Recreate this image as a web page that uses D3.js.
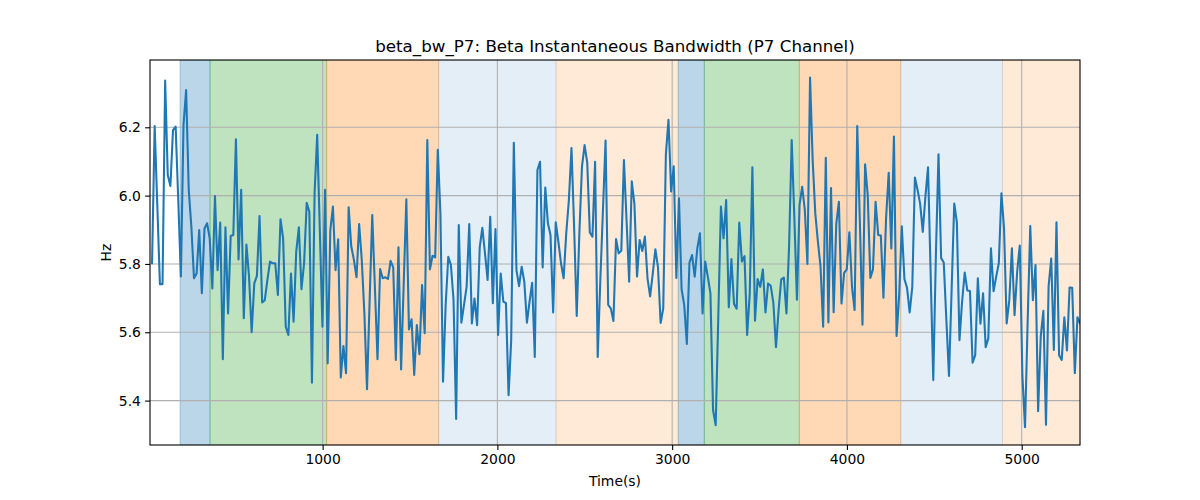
<!DOCTYPE html>
<html>
<head>
<meta charset="utf-8">
<script src="https://cdn.jsdelivr.net/npm/d3@7"></script>
<style>
  body { margin: 0; background: #fff; }
  text { font-family: "DejaVu Sans", sans-serif; }
</style>
</head>
<body>
<svg id="chart" width="1200" height="500"></svg>
<script>
// ---- data ----
const title = "beta_bw_P7: Beta Instantaneous Bandwidth (P7 Channel)";
const xLabel = "Time(s)";
const yLabel = "Hz";
const startTime = 24;      // seconds, first sample
const sampleStep = 15;     // seconds between samples
const values = [
  5.802, 6.204, 5.973, 5.741, 5.741, 6.337, 6.060, 6.028, 6.192, 6.202,
  5.987, 5.763, 6.207, 6.309, 6.017, 5.909, 5.758, 5.772, 5.899, 5.714,
  5.904, 5.919, 5.875, 5.728, 5.999, 5.782, 5.921, 5.521, 5.907, 5.655,
  5.882, 5.885, 6.165, 5.813, 6.017, 5.641, 5.857, 5.763, 5.600, 5.743,
  5.765, 5.940, 5.687, 5.694, 5.753, 5.807, 5.802, 5.802, 5.709, 5.931,
  5.875, 5.616, 5.592, 5.772, 5.631, 5.836, 5.907, 5.726, 5.802, 5.979,
  5.953, 5.452, 6.007, 6.178, 5.899, 5.616, 6.017, 5.509, 5.899, 5.968,
  5.782, 5.872, 5.468, 5.560, 5.480, 5.966, 5.851, 5.812, 5.761, 5.917,
  5.812, 5.655, 5.433, 5.694, 5.943, 5.733, 5.521, 5.785, 5.758, 5.761,
  5.756, 5.809, 5.790, 5.519, 5.849, 5.491, 5.743, 5.989, 5.608, 5.638,
  5.475, 5.621, 5.536, 5.738, 5.597, 6.163, 5.784, 5.824, 5.819, 6.134,
  5.948, 5.455, 5.680, 5.821, 5.797, 5.696, 5.346, 5.914, 5.628, 5.680,
  5.733, 5.917, 5.626, 5.699, 5.621, 5.849, 5.906, 5.831, 5.753, 5.938,
  5.685, 5.902, 5.592, 5.772, 5.690, 5.685, 5.416, 5.577, 6.155, 5.782,
  5.735, 5.792, 5.748, 5.628, 5.690, 5.745, 5.528, 6.075, 6.099, 5.790,
  6.024, 5.919, 5.885, 5.658, 5.922, 5.865, 5.802, 5.758, 5.890, 5.987,
  6.139, 5.909, 5.648, 5.890, 6.085, 6.148, 6.097, 5.892, 5.880, 6.099,
  5.528, 5.753, 5.958, 6.161, 5.680, 5.670, 5.633, 5.873, 5.831, 5.839,
  6.104, 5.929, 5.748, 6.042, 5.976, 5.763, 5.870, 5.838, 5.880, 5.758,
  5.705, 5.772, 5.843, 5.790, 5.627, 5.670, 6.120, 6.222, 6.012, 6.086,
  5.759, 5.992, 5.726, 5.680, 5.566, 5.804, 5.826, 5.763, 5.846, 5.890,
  5.655, 5.807, 5.763, 5.714, 5.372, 5.328, 5.646, 5.968, 5.875, 5.987,
  5.673, 5.814, 5.683, 5.669, 5.921, 5.807, 5.823, 5.592, 5.714, 6.083,
  5.634, 5.756, 5.733, 5.784, 5.658, 5.743, 5.736, 5.687, 5.556, 5.665,
  5.755, 5.760, 5.655, 5.851, 6.163, 5.938, 5.695, 5.973, 6.026, 5.958,
  5.800, 6.346, 6.104, 5.948, 5.865, 5.792, 5.616, 6.111, 5.629, 6.022,
  5.659, 5.917, 5.982, 5.684, 5.774, 5.784, 5.893, 5.733, 5.665, 6.204,
  5.924, 5.622, 6.092, 6.002, 5.759, 5.784, 5.982, 5.885, 5.883, 5.701,
  5.934, 6.067, 5.845, 6.173, 5.589, 5.709, 5.910, 5.756, 5.730, 5.658,
  5.733, 6.053, 6.017, 5.976, 5.894, 5.997, 6.083, 5.772, 5.460, 5.826,
  6.121, 5.817, 5.804, 5.636, 5.472, 5.724, 5.977, 5.922, 5.577, 5.690,
  5.775, 5.722, 5.721, 5.511, 5.533, 5.758, 5.625, 5.714, 5.556, 5.582,
  5.846, 5.720, 5.763, 5.802, 6.007, 5.904, 5.626, 5.694, 5.846, 5.650,
  5.777, 5.854, 5.473, 5.322, 5.631, 5.911, 5.694, 5.797, 5.369, 5.589,
  5.663, 5.329, 5.735, 5.816, 5.548, 5.922, 5.533, 5.519, 5.644, 5.547,
  5.731, 5.730, 5.480, 5.644, 5.626
];
// shaded segments (time in seconds) and their state
const spanStart = [184, 356, 1023, 1664, 2336, 3035, 3184, 3728, 4308, 4890];
const spanEnd   = [356, 1023, 1664, 2336, 3035, 3184, 3728, 4308, 4890, 5400];
const spanState = ["A", "B", "C", "D", "E", "A", "B", "C", "D", "E"];
const xTicks = [1000, 2000, 3000, 4000, 5000];
const yTicks = [5.4, 5.6, 5.8, 6.0, 6.2];
const xDomain = [12.3, 5333.6];
const yDomain = [5.27, 6.397];

// ---- styles ----
const stateColor = { A: "#1f77b4", B: "#2ca02c", C: "#ff7f0e", D: "#1f77b4", E: "#ff7f0e" };
const stateAlpha = { A: 0.3, B: 0.3, C: 0.3, D: 0.12, E: 0.16 };

const margin = { left: 150, right: 120, top: 60, bottom: 55 };
const W = 1200, H = 500;
const iw = W - margin.left - margin.right;   // 930
const ih = H - margin.top - margin.bottom;   // 385

const svg = d3.select("#chart");
svg.append("rect").attr("width", W).attr("height", H).attr("fill", "#fff");

const x = d3.scaleLinear().domain(xDomain).range([0, iw]);
const y = d3.scaleLinear().domain(yDomain).range([ih, 0]);

const g = svg.append("g").attr("transform", `translate(${margin.left},${margin.top})`);

g.append("clipPath").attr("id", "clip")
  .append("rect").attr("width", iw).attr("height", ih);

const plot = g.append("g").attr("clip-path", "url(#clip)");

// spans
const spans = spanStart.map((s, i) => ({ s, e: spanEnd[i], st: spanState[i] }));
plot.selectAll("rect.span").data(spans).enter().append("rect")
  .attr("class", "span")
  .attr("x", d => x(d.s))
  .attr("width", d => x(d.e) - x(d.s))
  .attr("y", 0)
  .attr("height", ih)
  .attr("fill", d => stateColor[d.st])
  .attr("fill-opacity", d => stateAlpha[d.st])
  .attr("stroke", d => stateColor[d.st])
  .attr("stroke-opacity", d => stateAlpha[d.st])
  .attr("stroke-width", 1);

// grid
const gridColor = "#b0b0b0";
plot.selectAll("line.gx").data(xTicks).enter().append("line")
  .attr("x1", d => x(d)).attr("x2", d => x(d))
  .attr("y1", 0).attr("y2", ih)
  .attr("stroke", gridColor).attr("stroke-width", 1.1);
plot.selectAll("line.gy").data(yTicks).enter().append("line")
  .attr("y1", d => y(d)).attr("y2", d => y(d))
  .attr("x1", 0).attr("x2", iw)
  .attr("stroke", gridColor).attr("stroke-width", 1.1);

// line
const pts = values.map((v, i) => ({ t: startTime + i * sampleStep, v }));
const line = d3.line().x(d => x(d.t)).y(d => y(d.v));
plot.append("path").datum(pts)
  .attr("d", line)
  .attr("fill", "none")
  .attr("stroke", "#1f77b4")
  .attr("stroke-width", 2.08)
  .attr("stroke-linejoin", "round")
  .attr("stroke-linecap", "square");

// axes
const xAxis = d3.axisBottom(x).tickValues(xTicks).tickFormat(d3.format("d")).tickSize(4.9).tickPadding(4.2);
const yAxis = d3.axisLeft(y).tickValues(yTicks).tickFormat(d3.format(".1f")).tickSize(4.9).tickPadding(4.2);

const gx = g.append("g").attr("transform", `translate(0,${ih})`).call(xAxis);
const gy = g.append("g").call(yAxis);
[gx, gy].forEach(a => {
  a.select(".domain").remove();
  a.selectAll(".tick line").attr("stroke", "#000").attr("stroke-width", 1.1);
  a.selectAll(".tick text").attr("fill", "#000").style("font-size", "13.9px").style("font-family", "DejaVu Sans");
});

// spines
g.append("rect").attr("width", iw).attr("height", ih)
  .attr("fill", "none").attr("stroke", "#000").attr("stroke-width", 1.1);

// labels
svg.append("text").attr("x", margin.left + iw / 2).attr("y", 52)
  .attr("text-anchor", "middle").style("font-size", "16.7px").text(title);
svg.append("text").attr("x", margin.left + iw / 2).attr("y", 486)
  .attr("text-anchor", "middle").style("font-size", "13.9px").text(xLabel);
svg.append("text").attr("transform", `translate(111,${margin.top + ih / 2}) rotate(-90)`)
  .attr("text-anchor", "middle").style("font-size", "13.9px").text(yLabel);
</script>
</body>
</html>
